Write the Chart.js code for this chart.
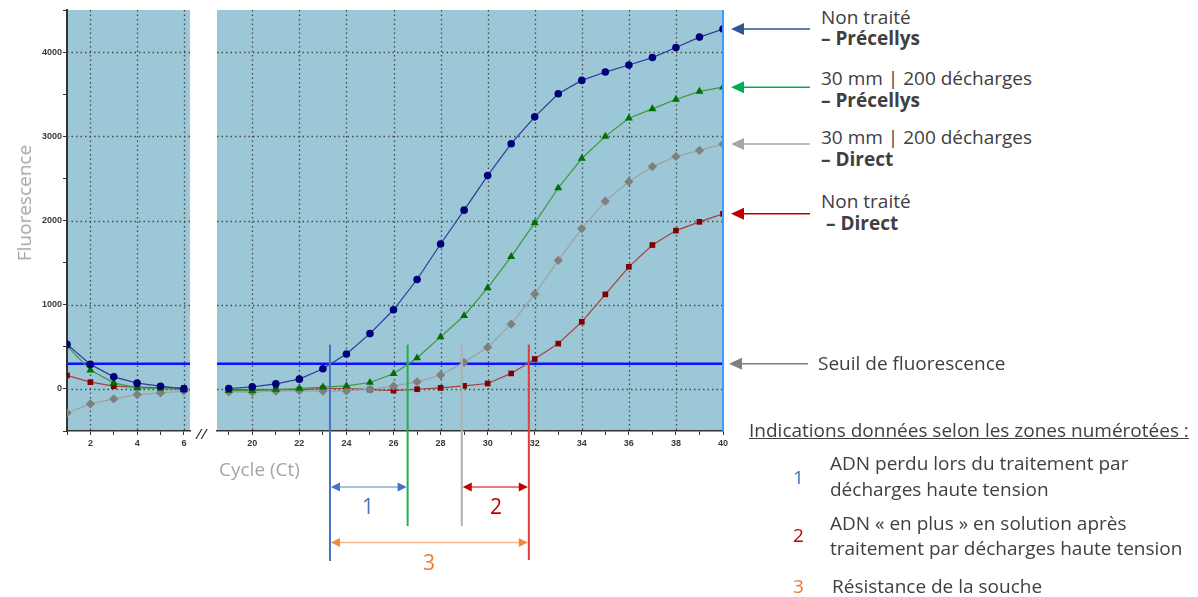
<!DOCTYPE html>
<html lang="fr">
<head>
<meta charset="utf-8">
<script src="https://cdn.jsdelivr.net/npm/chart.js@4.4.0/dist/chart.umd.min.js"></script>
<style>
  body { margin: 0; background: #fff; }
  #wrap { position: relative; width: 1198px; height: 597px; overflow: hidden; font-family: "Open Sans", sans-serif; color: #404040; }
  canvas { position: absolute; top: 0; }
  .t { position: absolute; white-space: nowrap; font-size: 19px; line-height: 22px; }
  .b { font-weight: bold; }
  .num { position: absolute; font-size: 21px; line-height: 24px; transform: translateX(-50%); }
</style>
</head>
<body>
<div id="wrap">
  <canvas id="left" width="195" height="460" style="left:0"></canvas>
  <canvas id="right" width="625" height="597" style="left:195px"></canvas>

  <div class="t" style="left:24px; top:203px; color:#a6a6a6; transform:translate(-50%,-50%) rotate(-90deg);">Fluorescence</div>
  <div class="t" style="left:219px; top:458px; color:#a6a6a6;">Cycle (Ct)</div>
  <div class="t" style="left:196px; top:422px; font-size:15px; color:#222; font-style:italic;">//</div>

  <div class="num" style="left:368px; top:494px; color:#4472c4;">1</div>
  <div class="num" style="left:496px; top:494px; color:#c00000;">2</div>
  <div class="num" style="left:429px; top:550px; color:#ed7d31;">3</div>

  <div class="t" style="left:821px; top:6px;">Non traité</div>
  <div class="t b" style="left:821px; top:27px;">– Précellys</div>
  <div class="t" style="left:821px; top:67px;">30 mm | 200 décharges</div>
  <div class="t b" style="left:821px; top:89px;">– Précellys</div>
  <div class="t" style="left:821px; top:126px;">30 mm | 200 décharges</div>
  <div class="t b" style="left:821px; top:148px;">– Direct</div>
  <div class="t" style="left:821px; top:190px;">Non traité</div>
  <div class="t b" style="left:826px; top:212px;">– Direct</div>
  <div class="t" style="left:818px; top:352px;">Seuil de fluorescence</div>

  <div class="t" style="left:749px; top:419px; text-decoration:underline;">Indications données selon les zones numérotées :</div>
  <div class="t" style="left:793px; top:466px; color:#4472c4;">1</div>
  <div class="t" style="left:830px; top:452px;">ADN perdu lors du traitement par</div>
  <div class="t" style="left:830px; top:478px;">décharges haute tension</div>
  <div class="t" style="left:793px; top:524px; color:#c00000;">2</div>
  <div class="t" style="left:830px; top:512px;">ADN « en plus » en solution après</div>
  <div class="t" style="left:830px; top:537px;">traitement par décharges haute tension</div>
  <div class="t" style="left:793px; top:575px; color:#ed7d31;">3</div>
  <div class="t" style="left:832px; top:575px;">Résistance de la souche</div>
</div>

<script>
// cycles of the two panels (broken axis)
const cyclesStart = [1, 2, 3, 4, 5, 6];
const cyclesEnd = [19, 20, 21, 22, 23, 24, 25, 26, 27, 28, 29, 30, 31, 32, 33, 34, 35, 36, 37, 38, 39, 40];

// fluorescence, cycles 1-6
const blueStart = [530, 291, 143, 68, 32, 0];
const greenStart = [510, 223, 72, 12, 5, -10];
const grayStart = [-287, -179, -119, -67, -48, -28];
const redStart = [160, 80, 32, 20, 12, 12];

// fluorescence, cycles 19-40
const blueEnd = [5, 24, 60, 116, 239, 414, 657, 940, 1299, 1721, 2123, 2533, 2912, 3231, 3505, 3664, 3763, 3847, 3935, 4055, 4178, 4274];
const greenEnd = [-20, -20, -8, 5, 20, 36, 76, 180, 367, 618, 869, 1199, 1570, 1972, 2386, 2736, 2999, 3214, 3326, 3437, 3533, 3584];
const grayEnd = [-36, -40, -28, -20, -28, -24, -4, 32, 84, 164, 315, 494, 769, 1128, 1526, 1904, 2230, 2461, 2640, 2760, 2832, 2908];
const redEnd = [-8, -8, -8, -8, 5, 5, -8, -20, -4, 12, 36, 64, 184, 355, 538, 797, 1123, 1450, 1709, 1880, 1984, 2079];

const threshold = 300;
// Ct of each curve: blue, green, gray, red
const ctValues = [23.3, 26.6, 28.9, 31.75];
const yLabels = [0, 1000, 2000, 3000, 4000];

const series = [
  { line: "#2e3c9c", point: "#00007a", shape: "circle", r: 3.8 },
  { line: "#3a9a3a", point: "#006f00", shape: "triangle", r: 4.6 },
  { line: "#a0a0a0", point: "#7f7f7f", shape: "rectRot", r: 4.6 },
  { line: "#a84040", point: "#800000", shape: "rect", r: 4 }
];

function makeSets(xs, lists, xmin, xmax) {
  const sets = lists.map((vals, i) => ({
    data: xs.map((x, k) => ({ x: x, y: vals[k] })),
    borderColor: series[i].line,
    borderWidth: 1.2,
    pointStyle: series[i].shape,
    pointRadius: series[i].r,
    pointBackgroundColor: series[i].point,
    pointBorderColor: series[i].point,
    pointBorderWidth: 0,
    tension: 0
  }));
  sets.push({
    data: [{ x: xmin, y: threshold }, { x: xmax, y: threshold }],
    borderColor: "#1010ff",
    borderWidth: 2.5,
    pointRadius: 0
  });
  return sets;
}

const tickFont = { family: "Liberation Sans", size: 9, weight: "bold" };
const ticksFrom = list => s => { s.ticks = list.map(v => ({ value: v })); };

// light blue plot area + dotted grid
const panelPlugin = {
  id: "panel",
  beforeDraw(chart) {
    const { ctx, chartArea: a } = chart;
    ctx.save();
    ctx.fillStyle = "#9bc7d6";
    ctx.fillRect(a.left, a.top, a.right - a.left, a.bottom - a.top);
    ctx.restore();
  },
  beforeDatasetsDraw(chart) {
    const { ctx, chartArea: a, scales } = chart;
    ctx.save();
    ctx.strokeStyle = "#4a4a4a";
    ctx.lineWidth = 1.3;
    ctx.setLineDash([1.5, 3]);
    scales.x.ticks.forEach(t => {
      if (t.value % 2 !== 0 || t.value >= scales.x.max) return;
      const px = Math.round(scales.x.getPixelForValue(t.value)) + 0.5;
      ctx.beginPath(); ctx.moveTo(px, a.top); ctx.lineTo(px, a.bottom); ctx.stroke();
    });
    yLabels.forEach(v => {
      const py = Math.round(scales.y.getPixelForValue(v)) + 0.5;
      ctx.beginPath(); ctx.moveTo(a.left, py); ctx.lineTo(a.right, py); ctx.stroke();
    });
    ctx.restore();
  }
};

function head(ctx, tipX, y, dir, len, half, color) {
  ctx.fillStyle = color;
  ctx.beginPath();
  ctx.moveTo(tipX, y);
  ctx.lineTo(tipX + dir * len, y - half);
  ctx.lineTo(tipX + dir * len, y + half);
  ctx.closePath();
  ctx.fill();
}

function hline(ctx, x1, x2, y, color, w) {
  ctx.strokeStyle = color;
  ctx.lineWidth = w;
  ctx.beginPath(); ctx.moveTo(x1, y); ctx.lineTo(x2, y); ctx.stroke();
}

// Ct markers, brackets and the pointers to the curve ends
const annotPlugin = {
  id: "annot",
  afterDraw(chart) {
    const { ctx, chartArea: a, scales: { x, y } } = chart;
    ctx.save();
    // right edge at cycle 40
    const xr = x.getPixelForValue(40);
    ctx.strokeStyle = "#3d9bff"; ctx.lineWidth = 2;
    ctx.beginPath(); ctx.moveTo(xr, a.top); ctx.lineTo(xr, a.bottom); ctx.stroke();

    const ctColors = ["#4472c4", "#22b04b", "#b0b0b0", "#e03c3c"];
    const ctBottom = [561, 526, 526, 560];
    const top = y.getPixelForValue(threshold) - 19;
    const px = ctValues.map(v => x.getPixelForValue(v));
    px.forEach((p, i) => {
      ctx.strokeStyle = ctColors[i]; ctx.lineWidth = 2;
      ctx.beginPath(); ctx.moveTo(p, top); ctx.lineTo(p, ctBottom[i]); ctx.stroke();
    });

    // zone 1, 2, 3
    const br = [
      { a: 0, b: 1, y: 487, line: "#8eaadb", hd: "#4472c4" },
      { a: 2, b: 3, y: 487, line: "#d9534f", hd: "#c00000" },
      { a: 0, b: 3, y: 542.5, line: "#f6b88c", hd: "#f08a3c" }
    ];
    br.forEach(o => {
      const x1 = px[o.a] + 1, x2 = px[o.b] - 1;
      hline(ctx, x1 + 6, x2 - 6, o.y, o.line, 1.5);
      head(ctx, x1, o.y, 1, 9, 4.5, o.hd);
      head(ctx, x2, o.y, -1, 9, 4.5, o.hd);
    });

    // pointers from the labels on the right
    const xEnd = chart.width - 10;
    const ends = [blueEnd, greenEnd, grayEnd, redEnd].map(s => s[s.length - 1]);
    const ptrColors = ["#2f5597", "#00b050", "#a6a6a6", "#c00000"];
    ends.forEach((v, i) => {
      const py = y.getPixelForValue(v);
      hline(ctx, xr + 16, xEnd, py, ptrColors[i], 1.5);
      head(ctx, xr + 8, py, 1, 13, 6, ptrColors[i]);
    });
    const pt = y.getPixelForValue(threshold);
    hline(ctx, xr + 14, xEnd - 2, pt, "#7f7f7f", 1.5);
    head(ctx, xr + 6, pt, 1, 13, 6, "#7f7f7f");
    ctx.restore();
  }
};

new Chart(document.getElementById("left"), {
  type: "line",
  data: { datasets: makeSets(cyclesStart, [blueStart, greenStart, grayStart, redStart], 1, 6.26) },
  options: {
    responsive: false,
    animation: false,
    devicePixelRatio: 1,
    layout: { padding: { top: 10, right: 5, left: 0, bottom: 0 } },
    plugins: { legend: { display: false }, tooltip: { enabled: false } },
    scales: {
      x: {
        type: "linear", min: 1, max: 6.26,
        afterBuildTicks: ticksFrom(cyclesStart),
        afterFit: s => { s.height = 29; },
        grid: { drawOnChartArea: false, tickLength: 4, color: "#333" },
        border: { color: "#333", width: 1.5 },
        ticks: { autoSkip: false, maxRotation: 0, padding: 3, color: "#3a3a3a", font: tickFont,
                 callback: v => (v % 2 === 0 ? v : "") }
      },
      y: {
        min: -500, max: 4500,
        afterFit: s => { s.width = 67; },
        grid: { drawOnChartArea: false, tickLength: 4, color: "#333" },
        border: { color: "#333", width: 2 },
        ticks: { stepSize: 500, autoSkip: false, padding: 1, color: "#3a3a3a", font: tickFont,
                 callback: v => (yLabels.includes(v) ? v : "") }
      }
    }
  },
  plugins: [panelPlugin]
});

new Chart(document.getElementById("right"), {
  type: "line",
  data: { datasets: makeSets(cyclesEnd, [blueEnd, greenEnd, grayEnd, redEnd], 18.5, 40) },
  options: {
    responsive: false,
    animation: false,
    devicePixelRatio: 1,
    layout: { padding: { top: 10, right: 97, left: 22, bottom: 0 } },
    plugins: { legend: { display: false }, tooltip: { enabled: false } },
    scales: {
      x: {
        type: "linear", min: 18.5, max: 40,
        afterBuildTicks: ticksFrom(cyclesEnd),
        afterFit: s => { s.height = 166; },
        grid: { drawOnChartArea: false, tickLength: 4, color: "#333" },
        border: { color: "#333", width: 1.5 },
        ticks: { autoSkip: false, maxRotation: 0, padding: 3, color: "#3a3a3a", font: tickFont,
                 callback: v => (v % 2 === 0 ? v : "") }
      },
      y: { display: false, min: -500, max: 4500 }
    }
  },
  plugins: [panelPlugin, annotPlugin]
});
</script>
</body>
</html>
